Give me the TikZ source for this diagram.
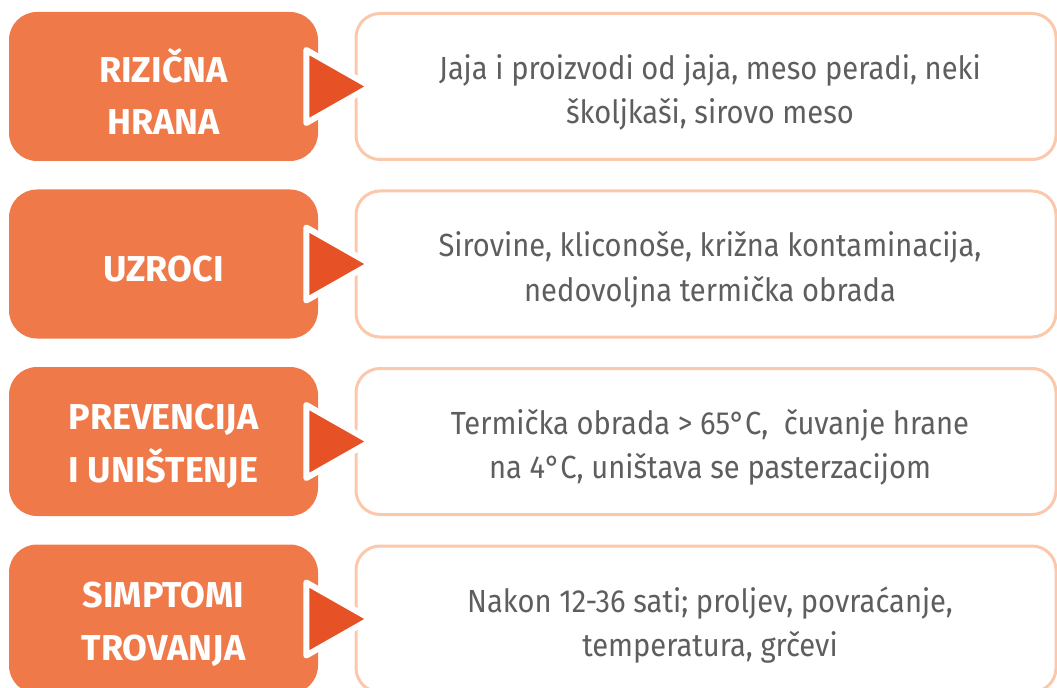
\documentclass[tikz,border=0pt]{standalone}
\usepackage{fontspec}
\setmainfont{Fira Sans}
\newfontfamily\condfont[FakeStretch=0.91]{Fira Sans}
\usetikzlibrary{calc}
\definecolor{boxorange}{HTML}{F0794A}
\definecolor{trired}{HTML}{E65226}
\definecolor{peach}{HTML}{FBC8AC}
\definecolor{txtgray}{HTML}{5E5E5E}
\tikzset{
  lbox/.style={fill=boxorange, draw=none, rounded corners=21pt, minimum width=231.75pt, minimum height=111.75pt},
  ltext/.style={align=center, text=white, font=\fontsize{27}{39.5}\selectfont\bfseries},
  rbox/.style={draw=peach, line width=2.25pt, fill=white, rounded corners=18pt, minimum width=525pt, minimum height=109.5pt},
  rtext/.style={align=center, text=txtgray, font=\condfont\fontsize{24}{33.5}\selectfont},
  tri/.style={fill=trired, draw=white, line width=4.5pt, line join=round}
}
\begin{document}
\begin{tikzpicture}[x=0.75pt,y=-0.75pt]
\useasboundingbox (0,0) rectangle (1057,688);
\clip (0,0) rectangle (1057,688);
\node[lbox] (L1) at (163.5,86.5) {};
\node[lbox] (L2) at (163.5,264) {};
\node[lbox] (L3) at (163.5,441.5) {};
\node[lbox] (L4) at (163.5,619) {};
\node[rbox] (R1) at (706,86.5) {};
\node[rbox] (R2) at (706,264) {};
\node[rbox] (R3) at (706,441.5) {};
\node[rbox] (R4) at (706,619) {};
\node[ltext] (A1) at ($(L1.center)+(0,5)$) {RIZIČNA\\HRANA};
\node[ltext] (A2) at ($(L2.center)+(0,5)$) {UZROCI};
\node[ltext] (A3) at ($(L3.center)+(0,5)$) {PREVENCIJA\\I UNIŠTENJE};
\node[ltext] (A4) at ($(L4.center)+(0,5)$) {SIMPTOMI\\TROVANJA};
\node[rtext] (B1) at ($(R1.center)+(4,6)$) {Jaja i proizvodi od jaja, meso peradi, neki\\školjkaši, sirovo meso};
\node[rtext] (B2) at ($(R2.center)+(4,6)$) {Sirovine, kliconoše, križna kontaminacija,\\nedovoljna termička obrada};
\node[rtext] (B3) at ($(R3.center)+(4,6)$) {Termička obrada > 65°C,~ čuvanje hrane\\na 4°C, uništava se pasterzacijom};
\node[rtext] (B4) at ($(R4.center)+(4,6)$) {Nakon 12-36 sati; proljev, povraćanje,\\temperatura, grčevi};
\foreach \i in {1,2,3,4}{
  \draw[tri] ($(L\i.east)+(-12,-36.5)$) -- ($(L\i.east)+(-12,36.5)$) -- ($(R\i.west)+(16,0)$) -- cycle;
}
\end{tikzpicture}
\end{document}
